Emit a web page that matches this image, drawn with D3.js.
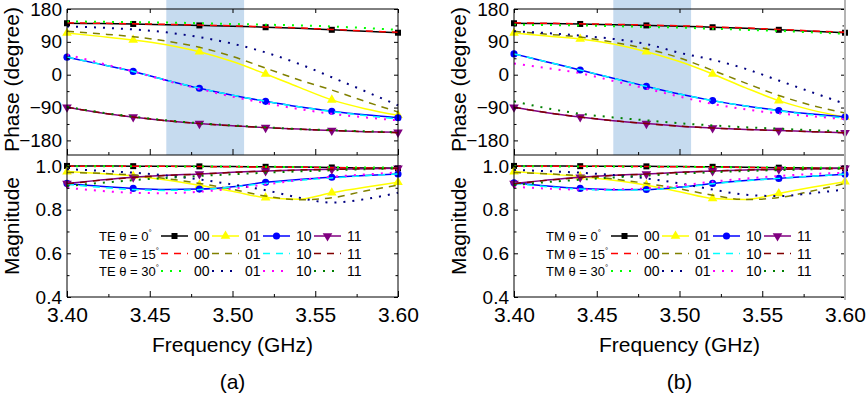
<!DOCTYPE html>
<html>
<head>
<meta charset="utf-8">
<title>Reflection phase and magnitude, TE / TM</title>
<script src="https://d3js.org/d3.v7.min.js"></script>
<style>
  body { margin: 0; background: #fff; }
  svg { display: block; font-family: "Liberation Sans", Arial, sans-serif; }
  .tick text { font-size: 19px; fill: #000; }
  .x-ticks .tick text { font-size: 21px; }
  .tick line { stroke: #000; }
  .axis-title { font-size: 21px; fill: #000; }
  .legend text { font-size: 14px; fill: #000; }
  .legend text.row-label { font-size: 13px; }
</style>
</head>
<body>
<div id="chart"></div>
<script>
// frequency samples (GHz)
var freq = [3.40, 3.42, 3.44, 3.46, 3.48, 3.50, 3.52, 3.54, 3.56, 3.58, 3.60];
var markerIdx = [0, 2, 4, 6, 8, 10];
var band = [3.46, 3.507];

var states = ["00", "01", "10", "11"];
var angles = [0, 15, 30];

// TE phase (degree)
var tePhase0_00 = [141, 140, 139, 137, 135, 133, 130, 127, 123, 119, 115];
var tePhase0_01 = [114, 105, 95, 82, 63, 36, 2, -34, -69, -93, -111];
var tePhase0_10 = [48, 29, 9, -15, -37, -56, -73, -88, -100, -110, -118];
var tePhase0_11 = [-89, -104, -116, -126, -134, -140, -145, -149, -153, -156, -158];
var tePhase15_00 = [142, 141, 139.5, 138, 136, 134, 131, 128, 124, 120, 116];
var tePhase15_01 = [119, 112, 104, 92, 75, 50, 18, -14, -42, -73, -102];
var tePhase15_10 = [48, 29, 9, -15, -37, -56, -73, -88, -101, -112, -121];
var tePhase15_11 = [-89, -104, -116, -126, -134, -140, -145, -149, -153, -156, -159];
var tePhase30_00 = [146, 145, 144, 143, 141, 139, 137, 135, 132, 128, 123];
var tePhase30_01 = [132, 129, 124, 116, 103, 85, 61, 30, -7, -45, -84];
var tePhase30_10 = [55, 32, 9, -16, -39, -60, -78, -94, -107, -117, -125];
var tePhase30_11 = [-88, -103, -115, -125, -133, -139, -144, -149, -152, -155, -158];

// TE magnitude
var teMag0_00 = [1.0, 1.0, 0.999, 0.999, 0.998, 0.997, 0.996, 0.995, 0.993, 0.991, 0.989];
var teMag0_01 = [0.974, 0.965, 0.954, 0.936, 0.912, 0.884, 0.855, 0.848, 0.877, 0.902, 0.925];
var teMag0_10 = [0.92, 0.907, 0.897, 0.892, 0.894, 0.905, 0.925, 0.938, 0.948, 0.956, 0.963];
var teMag0_11 = [0.92, 0.935, 0.948, 0.957, 0.963, 0.971, 0.977, 0.981, 0.985, 0.987, 0.989];
var teMag15_00 = [0.999, 0.999, 0.998, 0.998, 0.997, 0.996, 0.995, 0.994, 0.992, 0.99, 0.988];
var teMag15_01 = [0.97, 0.966, 0.958, 0.942, 0.92, 0.893, 0.862, 0.845, 0.854, 0.885, 0.912];
var teMag15_10 = [0.916, 0.902, 0.892, 0.888, 0.892, 0.903, 0.92, 0.934, 0.945, 0.955, 0.963];
var teMag15_11 = [0.918, 0.934, 0.947, 0.956, 0.963, 0.97, 0.976, 0.981, 0.984, 0.987, 0.989];
var teMag30_00 = [0.998, 0.998, 0.998, 0.997, 0.997, 0.997, 0.996, 0.995, 0.994, 0.993, 0.992];
var teMag30_01 = [0.985, 0.978, 0.969, 0.956, 0.938, 0.915, 0.889, 0.855, 0.832, 0.848, 0.877];
var teMag30_10 = [0.90, 0.886, 0.877, 0.875, 0.882, 0.896, 0.915, 0.935, 0.95, 0.961, 0.97];
var teMag30_11 = [0.908, 0.922, 0.935, 0.945, 0.954, 0.962, 0.969, 0.975, 0.98, 0.985, 0.989];

// TM phase (degree)
var tmPhase0_00 = [141, 140, 139, 137, 135, 133, 130, 127, 123, 119, 115];
var tmPhase0_01 = [114, 106, 98, 84, 63, 36, 2, -36, -71, -97, -116];
var tmPhase0_10 = [57, 35, 13, -10, -32, -53, -71, -86, -98, -108, -116];
var tmPhase0_11 = [-89, -104, -116, -126, -134, -141, -146, -150, -153, -156, -159];
var tmPhase15_00 = [142, 141, 139.5, 138, 136, 134, 131, 128, 124, 120, 116];
var tmPhase15_01 = [119, 111, 103, 89, 71, 46, 12, -23, -57, -84, -105];
var tmPhase15_10 = [57, 35, 13, -10, -32, -53, -71, -86, -99, -110, -119];
var tmPhase15_11 = [-89, -104, -116, -126, -134, -141, -146, -150, -153, -156, -159];
var tmPhase30_00 = [137, 136, 135, 133, 131, 129, 126, 123, 120, 116, 112];
var tmPhase30_01 = [119, 114, 107, 98, 84, 60, 41, 16, -16, -48, -80];
var tmPhase30_10 = [31, 18, 4, -17, -38, -60, -80, -95, -106, -114, -122];
var tmPhase30_11 = [-73, -92, -107, -117, -125, -133, -139, -144, -148, -152, -155];

// TM magnitude
var tmMag0_00 = [1.0, 1.0, 0.999, 0.999, 0.998, 0.997, 0.996, 0.994, 0.992, 0.99, 0.989];
var tmMag0_01 = [0.974, 0.963, 0.951, 0.934, 0.912, 0.882, 0.851, 0.846, 0.874, 0.902, 0.928];
var tmMag0_10 = [0.923, 0.908, 0.897, 0.891, 0.892, 0.903, 0.92, 0.933, 0.943, 0.953, 0.962];
var tmMag0_11 = [0.92, 0.935, 0.948, 0.957, 0.963, 0.971, 0.977, 0.981, 0.985, 0.987, 0.989];
var tmMag15_00 = [0.999, 0.999, 0.998, 0.998, 0.997, 0.996, 0.995, 0.993, 0.991, 0.989, 0.988];
var tmMag15_01 = [0.97, 0.964, 0.955, 0.94, 0.92, 0.895, 0.866, 0.846, 0.855, 0.885, 0.92];
var tmMag15_10 = [0.92, 0.905, 0.894, 0.889, 0.891, 0.901, 0.918, 0.932, 0.943, 0.953, 0.962];
var tmMag15_11 = [0.918, 0.934, 0.947, 0.956, 0.963, 0.97, 0.976, 0.981, 0.984, 0.987, 0.989];
var tmMag30_00 = [0.998, 0.998, 0.997, 0.997, 0.996, 0.996, 0.995, 0.994, 0.993, 0.992, 0.991];
var tmMag30_01 = [0.982, 0.976, 0.969, 0.958, 0.943, 0.92, 0.892, 0.868, 0.862, 0.875, 0.892];
var tmMag30_10 = [0.905, 0.896, 0.892, 0.893, 0.897, 0.91, 0.928, 0.942, 0.954, 0.963, 0.969];
var tmMag30_11 = [0.912, 0.926, 0.937, 0.947, 0.956, 0.964, 0.971, 0.977, 0.981, 0.985, 0.988];

// Origin-style colours per angle, per state
var colors = {
  0:  ["#000000", "#ffff00", "#0000ff", "#800080"],
  15: ["#ff0000", "#808000", "#00ffff", "#800000"],
  30: ["#00ff00", "#000080", "#ff00ff", "#008000"]
};
var dashes = { 0: null, 15: "7,6", 30: "2,7" };
var symbols = [d3.symbolSquare, d3.symbolTriangle, d3.symbolCircle, d3.symbolTriangle];

var panels = [
  { left: 67, mode: "TE", tag: "(a)", legendLine: 94, edge: "#000",
    phase: { 0: [tePhase0_00, tePhase0_01, tePhase0_10, tePhase0_11],
             15: [tePhase15_00, tePhase15_01, tePhase15_10, tePhase15_11],
             30: [tePhase30_00, tePhase30_01, tePhase30_10, tePhase30_11] },
    mag:   { 0: [teMag0_00, teMag0_01, teMag0_10, teMag0_11],
             15: [teMag15_00, teMag15_01, teMag15_10, teMag15_11],
             30: [teMag30_00, teMag30_01, teMag30_10, teMag30_11] } },
  { left: 514, mode: "TM", tag: "(b)", legendLine: 97, edge: "#b4b4b4",
    phase: { 0: [tmPhase0_00, tmPhase0_01, tmPhase0_10, tmPhase0_11],
             15: [tmPhase15_00, tmPhase15_01, tmPhase15_10, tmPhase15_11],
             30: [tmPhase30_00, tmPhase30_01, tmPhase30_10, tmPhase30_11] },
    mag:   { 0: [tmMag0_00, tmMag0_01, tmMag0_10, tmMag0_11],
             15: [tmMag15_00, tmMag15_01, tmMag15_10, tmMag15_11],
             30: [tmMag30_00, tmMag30_01, tmMag30_10, tmMag30_11] } }
];

var width = 866, height = 395;
var plotW = 331;
var phaseTop = 9, phaseBottom = 155, magBottom = 297;

var svg = d3.select("#chart").append("svg")
  .attr("width", width)
  .attr("height", height);

panels.forEach(function(p) {
  var x = d3.scaleLinear().domain([3.40, 3.60]).range([p.left, p.left + plotW]);
  var yP = d3.scaleLinear().domain([-220, 180]).range([phaseBottom, phaseTop]);
  var yM = d3.scaleLinear().domain([0.4, 1.05]).range([magBottom, phaseBottom]);

  var g = svg.append("g");

  // highlighted band (runs above the phase frame, as in the figure)
  g.append("rect")
    .attr("x", x(band[0]))
    .attr("y", 0)
    .attr("width", x(band[1]) - x(band[0]))
    .attr("height", phaseBottom)
    .attr("fill", "#c6dbef");

  function drawSeries(yScale, data) {
    angles.forEach(function(a) {
      data[a].forEach(function(vals, si) {
        var line = d3.line()
          .x(function(d, i) { return x(freq[i]); })
          .y(function(d) { return yScale(d); })
          .curve(d3.curveMonotoneX);
        g.append("path")
          .datum(vals)
          .attr("d", line)
          .attr("fill", "none")
          .attr("stroke", colors[a][si])
          .attr("stroke-width", a === 30 ? 2 : 1.5)
          .attr("stroke-dasharray", dashes[a]);
        if (a === 0) {
          g.selectAll(null)
            .data(markerIdx)
            .enter()
            .append("path")
            .attr("d", d3.symbol().type(symbols[si]).size(si === 0 ? 36 : 40))
            .attr("transform", function(i) {
              return "translate(" + x(freq[i]) + "," + yScale(vals[i]) + ")" + (si === 3 ? " rotate(180)" : "");
            })
            .attr("fill", colors[a][si]);
        }
      });
    });
  }
  drawSeries(yP, p.phase);
  drawSeries(yM, p.mag);

  var xTicks = [3.40, 3.45, 3.50, 3.55, 3.60];
  var xMinor = [3.425, 3.475, 3.525, 3.575];

  // phase panel axes
  g.append("g").attr("transform", "translate(0," + phaseTop + ")")
    .call(d3.axisTop(x).tickValues(xTicks).tickSize(-4).tickFormat(""));
  g.append("g").attr("transform", "translate(0," + phaseBottom + ")")
    .call(d3.axisBottom(x).tickValues(xTicks).tickSize(-6).tickFormat(""));
  g.append("g").attr("transform", "translate(0," + phaseBottom + ")")
    .call(d3.axisBottom(x).tickValues(xMinor).tickSize(-3).tickFormat(""));
  g.append("g").attr("transform", "translate(" + p.left + ",0)")
    .call(d3.axisLeft(yP).tickValues([-180, -90, 0, 90, 180]).tickSize(-4).tickPadding(5));
  g.append("g").attr("transform", "translate(" + p.left + ",0)")
    .call(d3.axisLeft(yP).tickValues([-135, -45, 45, 135]).tickSize(-2.5).tickFormat(""));
  g.append("g").attr("transform", "translate(" + (p.left + plotW) + ",0)")
    .call(d3.axisRight(yP).tickValues([-180, -90, 0, 90, 180]).tickSize(-4).tickFormat(""));
  g.append("g").attr("transform", "translate(" + (p.left + plotW) + ",0)")
    .call(d3.axisRight(yP).tickValues([-135, -45, 45, 135]).tickSize(-2.5).tickFormat(""));

  // magnitude panel axes
  g.append("g").attr("class", "x-ticks").attr("transform", "translate(0," + magBottom + ")")
    .call(d3.axisBottom(x).tickValues(xTicks).tickSize(-6).tickPadding(10).tickFormat(d3.format(".2f")));
  g.append("g").attr("transform", "translate(0," + magBottom + ")")
    .call(d3.axisBottom(x).tickValues(xMinor).tickSize(-3).tickFormat(""));
  g.append("g").attr("transform", "translate(" + p.left + ",0)")
    .call(d3.axisLeft(yM).tickValues([0.4, 0.6, 0.8, 1.0]).tickSize(-4).tickPadding(5).tickFormat(d3.format(".1f")));
  g.append("g").attr("transform", "translate(" + p.left + ",0)")
    .call(d3.axisLeft(yM).tickValues([0.5, 0.7, 0.9]).tickSize(-2.5).tickFormat(""));
  g.append("g").attr("transform", "translate(" + (p.left + plotW) + ",0)")
    .call(d3.axisRight(yM).tickValues([0.4, 0.6, 0.8, 1.0]).tickSize(-4).tickFormat(""));
  g.append("g").attr("transform", "translate(" + (p.left + plotW) + ",0)")
    .call(d3.axisRight(yM).tickValues([0.5, 0.7, 0.9]).tickSize(-2.5).tickFormat(""));

  g.selectAll(".domain").remove();

  // frames
  var frame = g.append("g").attr("fill", "none").attr("stroke", "#000").attr("stroke-width", 1);
  frame.append("path").attr("d",
    "M" + (p.left + plotW) + "," + phaseTop + "H" + p.left + "V" + magBottom + "H" + (p.left + plotW));
  frame.append("line")
    .attr("x1", p.left).attr("x2", p.left + plotW)
    .attr("y1", phaseBottom).attr("y2", phaseBottom);
  frame.append("line")
    .attr("x1", p.left + plotW).attr("x2", p.left + plotW)
    .attr("y1", p.edge === "#000" ? phaseTop : 0)
    .attr("y2", p.edge === "#000" ? magBottom : magBottom + 3)
    .attr("stroke", p.edge)
    .attr("stroke-width", p.edge === "#000" ? 1 : 2);

  // titles
  g.append("text").attr("class", "axis-title")
    .attr("transform", "translate(" + (p.left - 48) + "," + ((0 + phaseBottom) / 2 + 2) + ") rotate(-90)")
    .attr("text-anchor", "middle")
    .text("Phase (degree)");
  g.append("text").attr("class", "axis-title")
    .attr("transform", "translate(" + (p.left - 48) + "," + ((phaseBottom + magBottom) / 2) + ") rotate(-90)")
    .attr("text-anchor", "middle")
    .text("Magnitude");
  g.append("text").attr("class", "axis-title")
    .attr("x", p.left + plotW / 2).attr("y", 352)
    .attr("text-anchor", "middle")
    .text("Frequency (GHz)");
  g.append("text").attr("class", "axis-title")
    .attr("x", p.left + plotW / 2).attr("y", 389)
    .attr("text-anchor", "middle")
    .text(p.tag);

  // legend
  var leg = g.append("g").attr("class", "legend");
  angles.forEach(function(a, ri) {
    var cy = 236 + ri * 17.5;
    var lbl = leg.append("text").attr("class", "row-label").attr("x", p.left + 32).attr("y", cy + 5);
    lbl.append("tspan").text(p.mode + " \u03b8 = " + a);
    lbl.append("tspan").attr("dy", -6).style("font-size", "8px").text("\u00b0");
    states.forEach(function(s, si) {
      var x0 = p.left + p.legendLine + si * 51;
      leg.append("line")
        .attr("x1", x0).attr("x2", x0 + 27)
        .attr("y1", cy).attr("y2", cy)
        .attr("stroke", colors[a][si])
        .attr("stroke-width", a === 30 ? 2 : 1.5)
        .attr("stroke-dasharray", dashes[a]);
      if (a === 0) {
        leg.append("path")
          .attr("d", d3.symbol().type(symbols[si]).size(si === 0 ? 36 : 40))
          .attr("transform", "translate(" + (x0 + 13.5) + "," + cy + ")" + (si === 3 ? " rotate(180)" : ""))
          .attr("fill", colors[a][si]);
      }
      leg.append("text").attr("x", x0 + 33).attr("y", cy + 5).text(s);
    });
  });
});
</script>
</body>
</html>
